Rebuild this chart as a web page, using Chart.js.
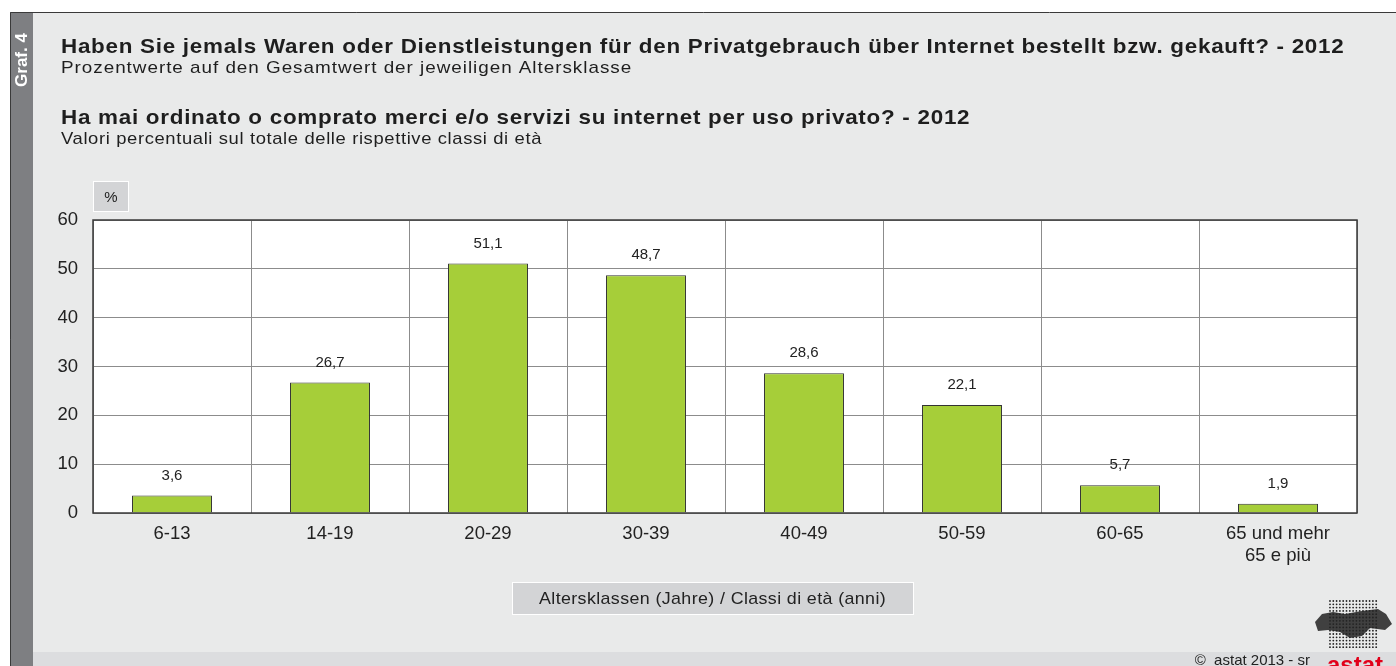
<!DOCTYPE html>
<html>
<head>
<meta charset="utf-8">
<script src="https://cdn.jsdelivr.net/npm/chart.js@4/dist/chart.umd.min.js"></script>
<style>
  html, body { margin: 0; padding: 0; background: #fff; }
  #wrap { width: 1396px; height: 666px; position: relative; }
</style>
</head>
<body>
<div id="wrap"><canvas id="chartOnline" width="1396" height="666"></canvas></div>
<script>
const categories = ["6-13", "14-19", "20-29", "30-39", "40-49", "50-59", "60-65", ["65 und mehr", "65 e più"]];
const values = [3.6, 26.7, 51.1, 48.7, 28.6, 22.1, 5.7, 1.9];
const yTicks = [0, 10, 20, 30, 40, 50, 60];

const titleDe = "Haben Sie jemals Waren oder Dienstleistungen für den Privatgebrauch über Internet bestellt bzw. gekauft? - 2012";
const subDe = "Prozentwerte auf den Gesamtwert der jeweiligen Altersklasse";
const titleIt = "Ha mai ordinato o comprato merci e/o servizi su internet per uso privato? - 2012";
const subIt = "Valori percentuali sul totale delle rispettive classi di età";
const axisTitle = "Altersklassen (Jahre) / Classi di età (anni)";

const FONT = "'Liberation Sans', Arial, Helvetica, sans-serif";

// draw left-aligned text, stretched horizontally (half glyph scale, half spacing) to a width
function wideText(c, text, x, y, width) {
  c.letterSpacing = "0px";
  const w = c.measureText(text).width;
  const k = Math.sqrt(width / w);
  const sp = (width / k - w) / Math.max(1, text.length);
  c.save();
  c.translate(x, y);
  c.scale(k, 1);
  c.letterSpacing = sp.toFixed(2) + "px";
  c.fillText(text, 0, 0);
  c.restore();
}

// background panel, titles, boxes, footer
const frame = {
  id: "frame",
  beforeDraw(chart) {
    const c = chart.ctx;
    c.save();
    c.fillStyle = "#ffffff";
    c.fillRect(0, 0, 1396, 666);
    c.fillStyle = "#e9eaea";
    c.fillRect(10, 12, 1386, 654);
    c.fillStyle = "#dcdddf";
    c.fillRect(33, 652, 1363, 14);
    c.fillStyle = "#7e7f82";
    c.fillRect(10, 12, 23, 654);
    c.strokeStyle = "#3a3a3a";
    c.lineWidth = 1;
    c.beginPath();
    c.moveTo(10.5, 666); c.lineTo(10.5, 12.5); c.lineTo(1396, 12.5);
    c.stroke();

    // side label
    c.translate(22, 60);
    c.rotate(-Math.PI / 2);
    c.fillStyle = "#ffffff";
    c.font = "bold 17px " + FONT;
    c.textAlign = "left";
    c.textBaseline = "middle";
    wideText(c, "Graf. 4", -27, 0, 54);
    c.setTransform(1, 0, 0, 1, 0, 0);

    c.fillStyle = "#1e1e1e";
    c.textAlign = "left";
    c.textBaseline = "middle";
    c.font = "bold 21px " + FONT;
    wideText(c, titleDe, 61, 47, 1284);
    wideText(c, titleIt, 61, 118, 909);
    c.font = "17px " + FONT;
    wideText(c, subDe, 61, 68, 571);
    wideText(c, subIt, 61, 139, 481);

    // unit box
    c.fillStyle = "#d3d4d6";
    c.fillRect(93, 181, 35, 30);
    c.strokeStyle = "#ffffff";
    c.strokeRect(93.5, 181.5, 35, 30);
    c.fillStyle = "#222";
    c.textAlign = "center";
    c.font = "15px " + FONT;
    c.fillText("%", 111, 198);

    // axis title box
    c.fillStyle = "#d3d4d6";
    c.fillRect(512, 582, 401, 32);
    c.strokeStyle = "#ffffff";
    c.strokeRect(512.5, 582.5, 401, 32);
    c.fillStyle = "#222";
    c.textAlign = "left";
    c.font = "17px " + FONT;
    wideText(c, axisTitle, 539, 599, 347);

    // footer
    c.font = "15px " + FONT;
    c.textAlign = "right";
    c.fillText("©  astat 2013 - sr", 1310, 661);

    // logo (rough)
    c.fillStyle = "#222";
    for (let x = 1330; x <= 1378; x += 3.3) {
      for (let y = 601; y <= 648; y += 3.3) {
        c.beginPath();
        c.arc(x, y, 0.9, 0, Math.PI * 2);
        c.fill();
      }
    }
    c.beginPath();
    c.moveTo(1315, 622); c.lineTo(1322, 614); c.lineTo(1333, 612); c.lineTo(1345, 614);
    c.lineTo(1362, 611); c.lineTo(1378, 609); c.lineTo(1386, 614); c.lineTo(1392, 624);
    c.lineTo(1385, 630); c.lineTo(1370, 628); c.lineTo(1362, 636); c.lineTo(1350, 638);
    c.lineTo(1340, 632); c.lineTo(1328, 630); c.lineTo(1318, 631); c.closePath();
    c.globalAlpha = 0.85;
    c.fill();
    c.globalAlpha = 1;
    c.fillStyle = "#e2001a";
    c.textAlign = "center";
    c.font = "bold 24px " + FONT;
    c.fillText("astat", 1355, 666);
    c.restore();

    // plot area white
    const a = chart.chartArea;
    c.save();
    c.fillStyle = "#ffffff";
    c.fillRect(a.left, a.top, a.right - a.left, a.bottom - a.top);
    c.restore();
  },
  afterDatasetsDraw(chart) {
    const c = chart.ctx;
    const a = chart.chartArea;
    c.save();
    c.strokeStyle = "#3a3a3a";
    c.lineWidth = 1.5;
    c.strokeRect(a.left, a.top, a.right - a.left, a.bottom - a.top);
    // value labels
    c.fillStyle = "#222";
    c.font = "15px " + FONT;
    c.textAlign = "center";
    c.textBaseline = "middle";
    chart.getDatasetMeta(0).data.forEach((bar, i) => {
      c.fillText(values[i].toFixed(1).replace(".", ","), bar.x, bar.y - 20);
    });
    c.restore();
  }
};

new Chart(document.getElementById("chartOnline"), {
  type: "bar",
  data: {
    labels: categories,
    datasets: [
      {
        data: values,
        backgroundColor: "#a6ce39",
        borderColor: "#333333",
        borderWidth: 1,
        barPercentage: 0.506,
        categoryPercentage: 1,
      },
    ],
  },
  options: {
    responsive: false,
    animation: false,
    layout: {
      padding: { left: 30, top: 220, right: 39, bottom: 93 },
    },
    plugins: {
      legend: { display: false },
      tooltip: { enabled: false },
    },
    scales: {
      x: {
        afterFit(scale) { scale.height = 60; },
        grid: { color: "#8c8c8c", offset: true, drawTicks: false },
        border: { display: false },
        ticks: {
          color: "#222",
          padding: 10,
          font: { family: FONT, size: 18.5 },
          maxRotation: 0,
        },
      },
      y: {
        min: 0,
        max: 60,
        afterFit(scale) { scale.width = 63; },
        afterBuildTicks(scale) { scale.ticks = yTicks.map((v) => ({ value: v })); },
        grid: { color: "#8c8c8c", drawTicks: false },
        border: { display: false },
        ticks: {
          color: "#222",
          padding: 15,
          font: { family: FONT, size: 18.5 },
        },
      },
    },
  },
  plugins: [frame],
});
</script>
</body>
</html>
